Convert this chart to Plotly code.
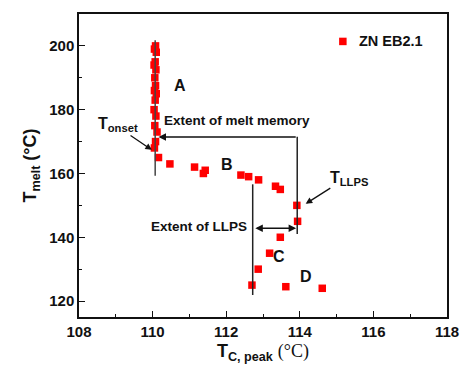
import plotly.graph_objects as go

# Crystallization peak temperature vs. melt temperature (ZN EB2.1)
tc_peak = [110.08, 110.05, 110.10, 110.07, 110.04, 110.09, 110.06, 110.08, 110.05,
           110.10, 110.07, 110.04, 110.09, 110.06, 110.12, 110.08, 110.05,
           110.16, 110.47, 111.14, 111.43, 111.38, 112.40, 112.61, 112.88,
           113.34, 113.47, 113.92, 113.94, 113.47, 113.18, 112.87, 112.70,
           113.62, 114.61]
t_melt = [200.0, 199.0, 198.0, 195.0, 194.0, 192.5, 190.0, 187.5, 186.0,
          185.0, 183.0, 180.0, 178.0, 175.0, 173.0, 170.0, 168.0,
          165.0, 163.0, 162.0, 161.0, 160.0, 159.5, 159.0, 158.0,
          156.0, 155.0, 150.0, 145.0, 140.0, 135.0, 130.0, 125.0,
          124.5, 124.0]

series_name = "ZN EB2.1"
region_labels = ["A", "B", "C", "D"]
region_x = [110.75, 112.02, 113.44, 114.18]
region_y = [187.7, 162.9, 134.0, 127.6]

# guide lines: (x0, y0, x1, y1, colour)
t_onset_x = 110.07
t_llps_x = 113.93
llps_start_x = 112.72
guide_lines = [
    (t_onset_x, 201.8, t_onset_x, 159.3, "#444444"),
    (t_llps_x, 171.5, t_llps_x, 141.0, "#222222"),
    (llps_start_x, 156.6, llps_start_x, 121.9, "#222222"),
]

SANS = "Liberation Sans, Arial, sans-serif"
SERIF = "Liberation Serif, Times New Roman, serif"

fig = go.Figure()
fig.add_trace(go.Scatter(
    x=tc_peak, y=t_melt, mode="markers", name=series_name,
    marker=dict(symbol="square", size=7.5, color="#ff0000"),
    showlegend=False,
))

for x0, y0, x1, y1, c in guide_lines:
    fig.add_shape(type="line", x0=x0, y0=y0, x1=x1, y1=y1, xref="x", yref="y",
                  line=dict(color=c, width=1.5))

# Extent of melt memory arrow
fig.add_annotation(x=110.16, y=171.4, ax=t_llps_x, ay=171.4, xref="x", yref="y",
                   axref="x", ayref="y", text="", showarrow=True, arrowhead=2,
                   arrowsize=1, arrowwidth=1.5, arrowcolor="#111111")
# Extent of LLPS arrow
fig.add_annotation(x=t_llps_x - 0.03, y=142.8, ax=llps_start_x + 0.03, ay=142.8,
                   xref="x", yref="y", axref="x", ayref="y", text="", showarrow=True,
                   arrowhead=2, startarrowhead=2, arrowside="end+start",
                   arrowsize=1, arrowwidth=1.5, arrowcolor="#111111")
# T_onset pointer
fig.add_annotation(x=109.98, y=167.4, ax=109.36, ay=172.2, xref="x", yref="y",
                   axref="x", ayref="y", text="", showarrow=True, arrowhead=2,
                   arrowsize=1, arrowwidth=1.3, arrowcolor="#111111")
# T_LLPS pointer
fig.add_annotation(x=114.16, y=150.5, ax=114.87, ay=155.7, xref="x", yref="y",
                   axref="x", ayref="y", text="", showarrow=True, arrowhead=2,
                   arrowsize=1, arrowwidth=1.3, arrowcolor="#111111")

text_font = dict(family=SANS, size=13.5, color="#111111")
for lab, lx, ly in zip(region_labels, region_x, region_y):
    fig.add_annotation(x=lx, y=ly, text=f"<b>{lab}</b>", showarrow=False,
                       font=dict(family=SANS, size=16, color="#111111"))

fig.add_annotation(x=112.29, y=176.6, text="<b>Extent of melt memory</b>",
                   showarrow=False, font=text_font)
fig.add_annotation(x=111.27, y=143.4, text="<b>Extent of LLPS</b>",
                   showarrow=False, font=text_font)
fig.add_annotation(x=109.05, y=175.3, text="<b>T<sub>onset</sub></b>",
                   showarrow=False, font=dict(family=SANS, size=16, color="#111111"))
fig.add_annotation(x=115.35, y=158.5, text="<b>T<sub>LLPS</sub></b>",
                   showarrow=False, font=dict(family=SANS, size=16, color="#111111"))

# legend entry
fig.add_trace(go.Scatter(x=[115.17], y=[201.4], mode="markers",
                         marker=dict(symbol="square", size=7.5, color="#ff0000"),
                         showlegend=False, hoverinfo="skip"))
fig.add_annotation(x=115.55, y=201.4, text="<b>" + series_name + "</b>", xanchor="left",
                   showarrow=False, font=dict(family=SANS, size=14.5, color="#111111"))

axis_common = dict(showgrid=False, zeroline=False, showline=True, linecolor="#111111",
                   linewidth=1.5, mirror=True, ticks="inside", ticklen=6,
                   tickwidth=1.2, tickcolor="#111111",
                   tickfont=dict(family=SANS, size=15, color="#111111", weight="bold"))

fig.update_xaxes(range=[108, 118], dtick=2, tick0=108,
                 minor=dict(ticks="inside", ticklen=3, dtick=1, tickcolor="#111111"),
                 title=dict(text="<b>T<sub>C, peak</sub></b> <span style='font-family:"
                                 + SERIF + "'>(°C)</span>",
                            font=dict(family=SANS, size=18, color="#111111"), standoff=6),
                 **axis_common)
fig.update_yaxes(range=[115, 210], dtick=20, tick0=120,
                 minor=dict(ticks="inside", ticklen=3, dtick=10, tickcolor="#111111"),
                 title=dict(text="<b>T<sub>melt</sub> (°C)</b>",
                            font=dict(family=SANS, size=18, color="#111111"), standoff=8),
                 **axis_common)

fig.update_layout(width=471, height=370, margin=dict(l=79, r=16, t=13, b=52),
                  plot_bgcolor="white", paper_bgcolor="white")

fig.write_html("out.html")
